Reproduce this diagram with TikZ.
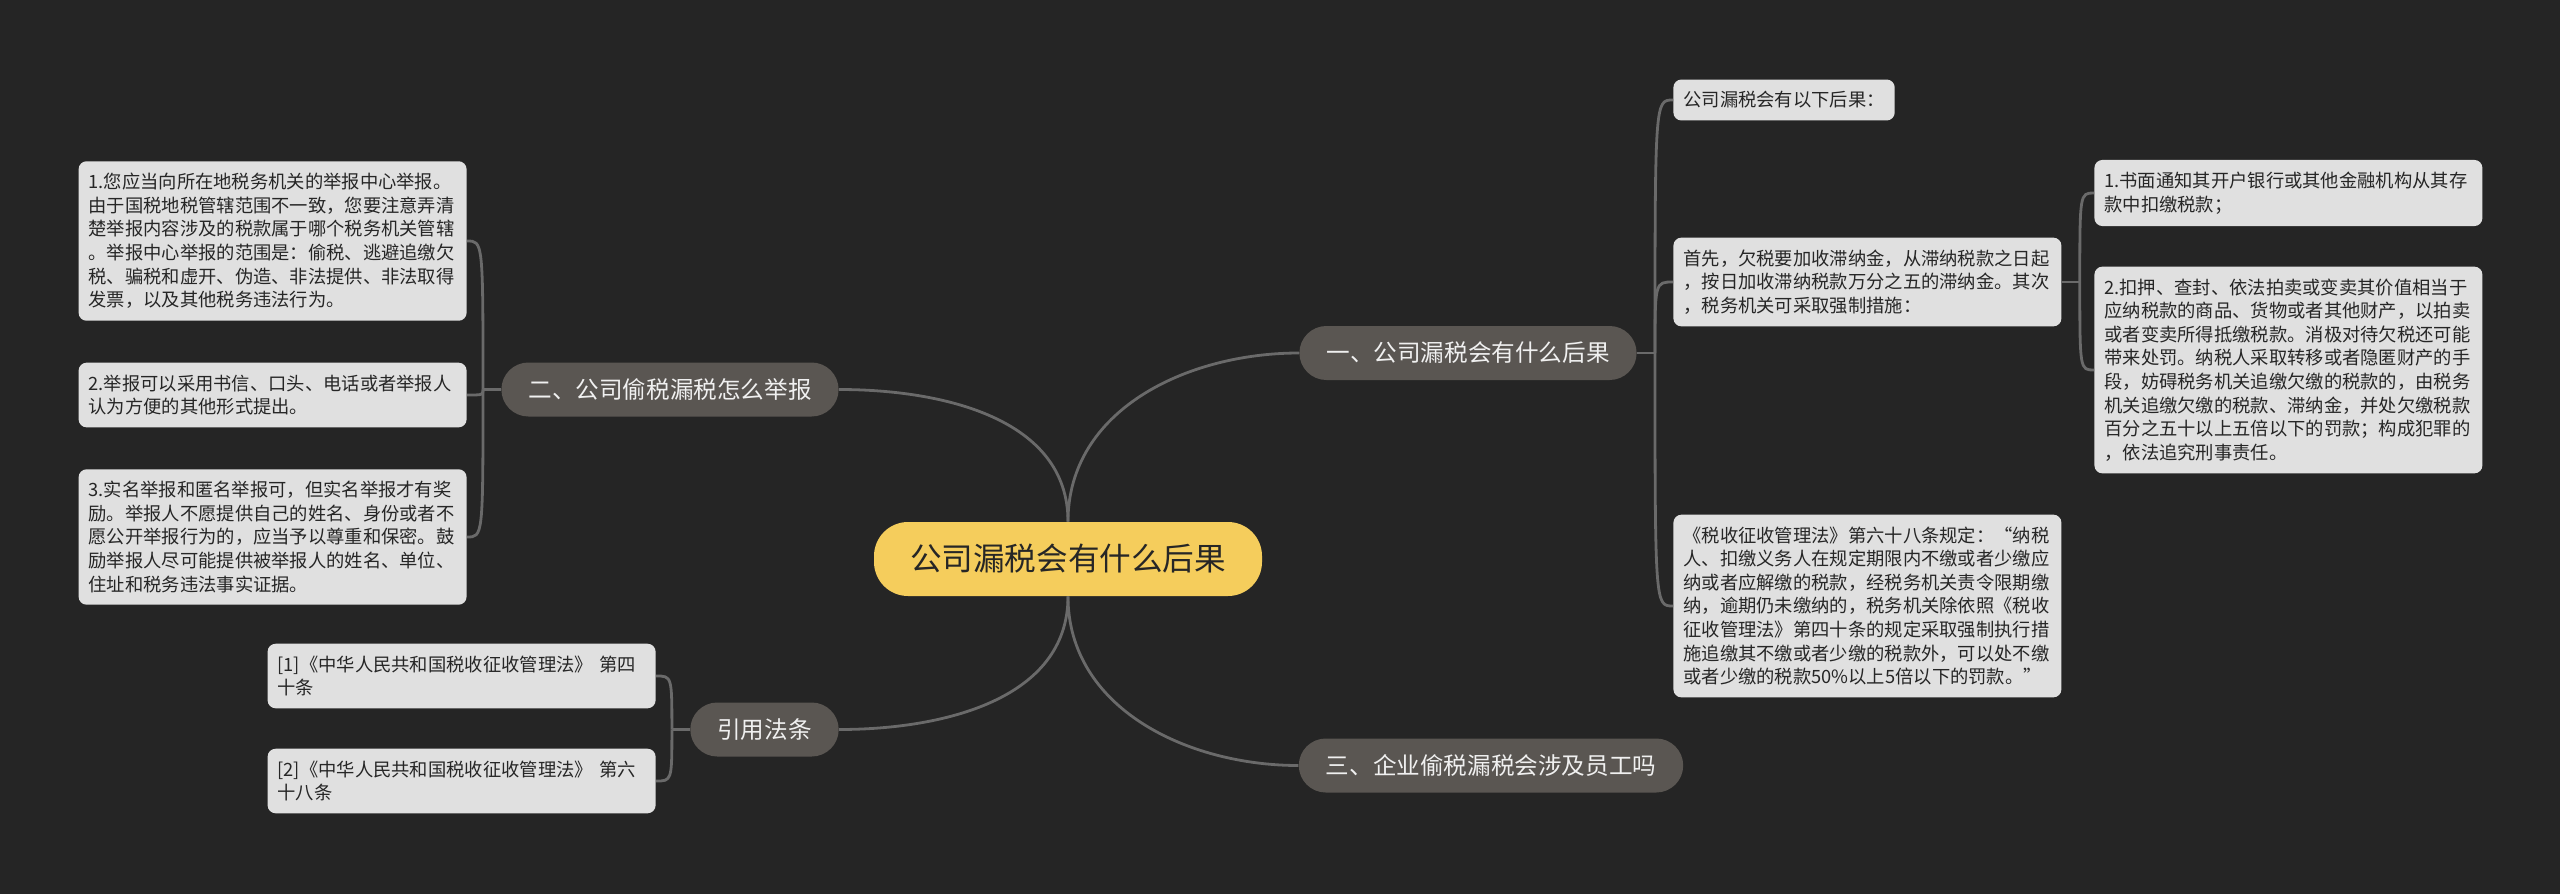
\documentclass[tikz,border=0pt]{standalone}
\usepackage{fontspec}
\setmainfont{Noto Sans CJK SC}
\usetikzlibrary{positioning}
\definecolor{bgdark}{HTML}{252525}
\definecolor{topicbg}{HTML}{5A5652}
\definecolor{leafbg}{HTML}{E0E0E0}
\definecolor{rootbg}{HTML}{F5CD5C}
\definecolor{linkgray}{HTML}{6A6A6A}

\begin{document}
\begin{tikzpicture}[x=0.5pt, y=-0.5pt,
  root/.style={fill=rootbg, text=black!85, rounded corners=17pt, font=\fontsize{15.8}{18}\selectfont, inner xsep=18pt, minimum height=37pt},
  topic/.style={fill=topicbg, text=white!94!black, rounded corners=13.5pt, font=\fontsize{11.8}{14}\selectfont, inner xsep=13.5pt, minimum height=27pt},
  leafbase/.style={fill=leafbg, text=black!85, rounded corners=4pt, align=left, inner xsep=5pt, inner ysep=6pt, font=\fontsize{9.15}{11.8}\selectfont},
  leaf/.style={leafbase, text width=184pt},
  link/.style={draw=linkgray, line width=1.4pt}]
\fill[bgdark] (0,0) rectangle (2560,894);
\useasboundingbox (0,0) rectangle (2560,894);
% root and main topics
\node[root] (root) at (1068,559) {公司漏税会有什么后果};
\node[topic] (conseq) at (1468,353) {一、公司漏税会有什么后果};
\node[topic] (report) at (670,389.5) {二、公司偷税漏税怎么举报};
\node[topic] (laws) at (764.5,729.5) {引用法条};
\node[topic] (staff) at (1491,765.5) {三、企业偷税漏税会涉及员工吗};
% leaves of 一
\node[leafbase, anchor=west] (res0) at (1673,100) {公司漏税会有以下后果：};
\node[leaf, anchor=west] (res1) at (1673,282) {首先，欠税要加收滞纳金，从滞纳税款之日起\\，按日加收滞纳税款万分之五的滞纳金。其次\\，税务机关可采取强制措施：};
\node[leaf, anchor=west] (res2) at (1673,606) {《税收征收管理法》第六十八条规定：“纳税\\人、扣缴义务人在规定期限内不缴或者少缴应\\纳或者应解缴的税款，经税务机关责令限期缴\\纳，逾期仍未缴纳的，税务机关除依照《税收\\征收管理法》第四十条的规定采取强制执行措\\施追缴其不缴或者少缴的税款外，可以处不缴\\或者少缴的税款50\%以上5倍以下的罚款。”};
\node[leaf, anchor=west] (force1) at (2094,193) {1.书面通知其开户银行或其他金融机构从其存\\款中扣缴税款；};
\node[leaf, anchor=west] (force2) at (2094,370) {2.扣押、查封、依法拍卖或变卖其价值相当于\\应纳税款的商品、货物或者其他财产，以拍卖\\或者变卖所得抵缴税款。消极对待欠税还可能\\带来处罚。纳税人采取转移或者隐匿财产的手\\段，妨碍税务机关追缴欠缴的税款的，由税务\\机关追缴欠缴的税款、滞纳金，并处欠缴税款\\百分之五十以上五倍以下的罚款；构成犯罪的\\，依法追究刑事责任。};
% leaves of 二
\node[leaf, anchor=east] (way1) at (467,241) {1.您应当向所在地税务机关的举报中心举报。\\由于国税地税管辖范围不一致，您要注意弄清\\楚举报内容涉及的税款属于哪个税务机关管辖\\。举报中心举报的范围是：偷税、逃避追缴欠\\税、骗税和虚开、伪造、非法提供、非法取得\\发票，以及其他税务违法行为。};
\node[leaf, anchor=east] (way2) at (467,395) {2.举报可以采用书信、口头、电话或者举报人\\认为方便的其他形式提出。};
\node[leaf, anchor=east] (way3) at (467,537) {3.实名举报和匿名举报可，但实名举报才有奖\\励。举报人不愿提供自己的姓名、身份或者不\\愿公开举报行为的，应当予以尊重和保密。鼓\\励举报人尽可能提供被举报人的姓名、单位、\\住址和税务违法事实证据。};
% leaves of 引用法条
\node[leaf, anchor=east] (law1) at (656,676) {[1]《中华人民共和国税收征收管理法》 第四\\十条};
\node[leaf, anchor=east] (law2) at (656,781) {[2]《中华人民共和国税收征收管理法》 第六\\十八条};
% root to topics
\draw[link] (root.north) to[out=90,in=180] (conseq.west);
\draw[link] (root.north) to[out=90,in=0] (report.east);
\draw[link] (root.south) to[out=-90,in=0] (laws.east);
\draw[link] (root.south) to[out=-90,in=180] (staff.west);
% brackets
\coordinate (k1) at ([xshift=9pt]conseq.east);
\coordinate (k2) at ([xshift=9pt]res1.east);
\coordinate (k3) at ([xshift=-9pt]report.west);
\coordinate (k4) at ([xshift=-9pt]laws.west);
\draw[link] (conseq.east) -- (k1); \draw[link] (res1.east) -- (k2);
\draw[link] (report.west) -- (k3); \draw[link] (laws.west) -- (k4);
\draw[link] (k1) .. controls (k1 |- res0.west) .. (res0.west);
\draw[link] (k1) .. controls (k1 |- res1.west) .. (res1.west);
\draw[link] (k1) .. controls (k1 |- res2.west) .. (res2.west);
\draw[link] (k2) .. controls (k2 |- force1.west) .. (force1.west);
\draw[link] (k2) .. controls (k2 |- force2.west) .. (force2.west);
\draw[link] (k3) .. controls (k3 |- way1.east) .. (way1.east);
\draw[link] (k3) .. controls (k3 |- way2.east) .. (way2.east);
\draw[link] (k3) .. controls (k3 |- way3.east) .. (way3.east);
\draw[link] (k4) .. controls (k4 |- law1.east) .. (law1.east);
\draw[link] (k4) .. controls (k4 |- law2.east) .. (law2.east);
\end{tikzpicture}
\end{document}
